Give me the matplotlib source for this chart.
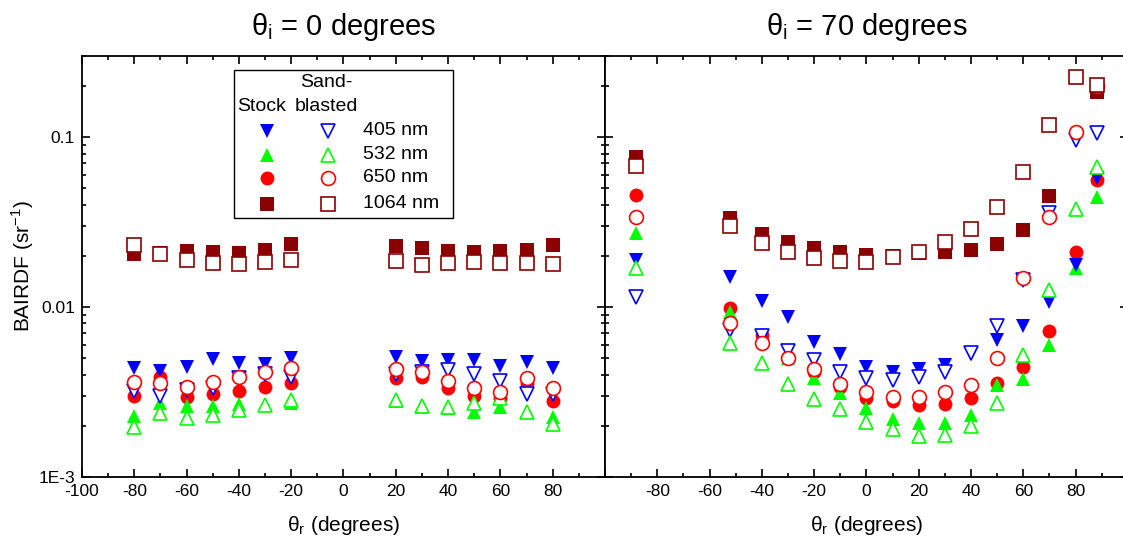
import matplotlib
matplotlib.use('Agg')
import matplotlib.pyplot as plt
from matplotlib.ticker import MultipleLocator, LogLocator, FixedLocator, FuncFormatter, NullFormatter
from matplotlib.patches import Rectangle
import numpy as np

plt.rcParams['font.family'] = ['Liberation Sans', 'DejaVu Sans']
plt.rcParams['mathtext.fontset'] = 'custom'
plt.rcParams['mathtext.rm'] = 'Liberation Sans'

# ---- data: theta_i = 0 degrees ----
angles_0 = [-80, -70, -60, -50, -40, -30, -20, 20, 30, 40, 50, 60, 70, 80]
stock_405_0 = [4.36e-3, 4.22e-3, 4.42e-3, 4.95e-3, 4.67e-3, 4.62e-3, 5.03e-3,
               5.08e-3, 4.83e-3, 4.85e-3, 4.88e-3, 4.48e-3, 4.73e-3, 4.36e-3]
sand_405_0 = [3.22e-3, 2.98e-3, 3.25e-3, 3.34e-3, 3.81e-3, 4.03e-3, 3.86e-3,
              4.02e-3, 4.15e-3, 4.24e-3, 4.05e-3, 3.67e-3, 3.09e-3, 3.09e-3]
stock_532_0 = [2.28e-3, 2.71e-3, 2.62e-3, 2.62e-3, 2.68e-3, 2.65e-3, 2.73e-3,
               2.80e-3, 2.57e-3, 2.55e-3, 2.41e-3, 2.59e-3, 2.40e-3, 2.24e-3]
sand_532_0 = [1.98e-3, 2.39e-3, 2.22e-3, 2.32e-3, 2.48e-3, 2.65e-3, 2.83e-3,
              2.85e-3, 2.63e-3, 2.58e-3, 2.72e-3, 2.90e-3, 2.42e-3, 2.06e-3]
stock_650_0 = [3.01e-3, 3.89e-3, 2.97e-3, 3.08e-3, 3.20e-3, 3.40e-3, 3.56e-3,
               3.81e-3, 3.89e-3, 3.35e-3, 3.01e-3, 2.90e-3, 3.59e-3, 2.80e-3]
sand_650_0 = [3.64e-3, 3.56e-3, 3.40e-3, 3.64e-3, 3.89e-3, 4.16e-3, 4.36e-3,
              4.30e-3, 4.16e-3, 3.67e-3, 3.35e-3, 3.18e-3, 3.81e-3, 3.35e-3]
stock_1064_0 = [0.0204, 0.0207, 0.0213, 0.0210, 0.0207, 0.0216, 0.0235,
                0.0229, 0.0221, 0.0213, 0.0211, 0.0213, 0.0218, 0.0232]
sand_1064_0 = [0.0232, 0.0205, 0.0189, 0.0181, 0.0178, 0.0184, 0.0189,
               0.0187, 0.0177, 0.0181, 0.0185, 0.0181, 0.0182, 0.0180]

# ---- data: theta_i = 70 degrees ----
angles_70 = [-88, -52, -40, -30, -20, -10, 0, 10, 20, 30, 40, 50, 60, 70, 80, 88]
stock_405_70 = [0.0189, 0.0150, 0.0109, 8.77e-3, 6.25e-3, 5.30e-3, 4.42e-3, 4.13e-3,
                4.30e-3, 4.56e-3, 5.30e-3, 6.40e-3, 7.73e-3, 0.01075, 0.0177, 0.0571]
sand_405_70 = [0.0115, 7.32e-3, 6.75e-3, 5.53e-3, 4.88e-3, 4.16e-3, 3.81e-3, 3.72e-3,
               3.89e-3, 4.16e-3, 5.34e-3, 7.73e-3, 0.0145, 0.0356, 0.0960, 0.105]
stock_532_70 = [0.0271, 9.4e-3, 6.6e-3, 4.99e-3, 3.81e-3, 3.10e-3, 2.54e-3, 2.19e-3,
                2.07e-3, 2.07e-3, 2.32e-3, 3.50e-3, 3.76e-3, 5.98e-3, 0.0169, 0.0445]
sand_532_70 = [0.0169, 6.11e-3, 4.67e-3, 3.52e-3, 2.87e-3, 2.50e-3, 2.12e-3, 1.91e-3,
               1.74e-3, 1.77e-3, 2.00e-3, 2.74e-3, 5.22e-3, 0.0126, 0.0376, 0.0669]
stock_650_70 = [0.0456, 9.83e-3, 6.84e-3, 5.10e-3, 4.16e-3, 3.40e-3, 2.90e-3, 2.81e-3,
                2.65e-3, 2.69e-3, 2.93e-3, 3.59e-3, 4.42e-3, 7.22e-3, 0.0210, 0.0558]
sand_650_70 = [0.0337, 8.02e-3, 6.11e-3, 4.99e-3, 4.32e-3, 3.51e-3, 3.15e-3, 2.97e-3,
               2.97e-3, 3.15e-3, 3.48e-3, 4.99e-3, 0.01475, 0.0337, 0.1075, 0.199]
stock_1064_70 = [0.0766, 0.0332, 0.0268, 0.0240, 0.0222, 0.0210, 0.0202, 0.0200,
                 0.0207, 0.0210, 0.0218, 0.0235, 0.0284, 0.0450, np.nan, 0.184]
sand_1064_70 = [0.0678, 0.0301, 0.0237, 0.0210, 0.0193, 0.0187, 0.0185, 0.0198,
                0.0210, 0.0242, 0.0288, 0.0386, 0.0620, 0.1177, 0.226, 0.202]

wavelengths = ['405 nm', '532 nm', '650 nm', '1064 nm']
colors = ['#0000ff', '#00ff00', '#ff0000', '#8b0000']
markers = ['v', '^', 'o', 's']

panels = [
    ('0', angles_0,
     [stock_405_0, stock_532_0, stock_650_0, stock_1064_0],
     [sand_405_0, sand_532_0, sand_650_0, sand_1064_0]),
    ('70', angles_70,
     [stock_405_70, stock_532_70, stock_650_70, stock_1064_70],
     [sand_405_70, sand_532_70, sand_650_70, sand_1064_70]),
]

MS = 10
MEW = 1.2

fig = plt.figure(figsize=(11.23, 5.44), dpi=100)
ax1 = fig.add_axes([0.0730, 0.1232, 0.4657, 0.7739])
ax2 = fig.add_axes([0.5387, 0.1232, 0.4657, 0.7739])

for ax, (inc, ang, stock, sand) in zip([ax1, ax2], panels):
    # filled (stock) first, then open (sand-blasted) on top
    for i in [3, 2, 1, 0]:
        ax.plot(ang, stock[i], linestyle='none', marker=markers[i], ms=MS,
                color=colors[i], mec=colors[i], mew=0)
    for i in [0, 1, 2, 3]:
        ax.plot(ang, sand[i], linestyle='none', marker=markers[i], ms=MS,
                mfc='white', mec=colors[i], mew=MEW)

    ax.set_yscale('log')
    ax.set_ylim(1e-3, 0.3)
    ax.set_xlim(-100, 100)
    ax.xaxis.set_major_locator(MultipleLocator(20))
    ax.xaxis.set_minor_locator(MultipleLocator(10))
    ax.yaxis.set_major_locator(FixedLocator([1e-3, 1e-2, 1e-1]))
    ax.yaxis.set_minor_locator(LogLocator(base=10, subs=np.arange(2, 10)))
    ax.yaxis.set_minor_formatter(NullFormatter())
    ax.tick_params(which='both', direction='in', top=True, right=True,
                   labelsize=12.5, width=1.2, pad=5)
    ax.tick_params(which='major', length=5.8)
    ax.tick_params(which='minor', length=3)
    for sp in ax.spines.values():
        sp.set_linewidth(1.3)
    ax.set_title('θ$_\\mathregular{i}$ = ' + inc + ' degrees', fontsize=21, pad=15)
    ax.set_xlabel('θ$_\\mathregular{r}$ (degrees)', fontsize=15, labelpad=11)

ax1.xaxis.set_major_formatter(FuncFormatter(lambda v, p: '' if v > 90 else '%d' % v))
ax2.xaxis.set_major_formatter(FuncFormatter(lambda v, p: '' if abs(v) > 90 else '%d' % v))
ax1.yaxis.set_major_formatter(FuncFormatter(
    lambda v, p: {1e-3: '1E-3', 1e-2: '0.01', 1e-1: '0.1'}.get(v, '')))
ax2.tick_params(labelleft=False)
ax1.set_ylabel('BAIRDF (sr$^{\\mathregular{-1}}$)', fontsize=15, labelpad=2)

# legend box drawn by hand (two marker columns + label column)
ax1.add_patch(Rectangle((0.2906, 0.6152), 0.4188, 0.3515, transform=ax1.transAxes,
                        fill=False, edgecolor='black', linewidth=1.0, zorder=5))
ax1.text(0.344, 0.879, 'Stock', transform=ax1.transAxes, ha='center', va='center', fontsize=14)
ax1.text(0.468, 0.936, 'Sand-', transform=ax1.transAxes, ha='center', va='center', fontsize=14)
ax1.text(0.468, 0.879, 'blasted', transform=ax1.transAxes, ha='center', va='center', fontsize=14)
row_y = [0.8219, 0.7648, 0.7102, 0.6485]
for i in range(4):
    ax1.plot([0.3537], [row_y[i]], transform=ax1.transAxes, linestyle='none',
             marker=markers[i], ms=MS, color=colors[i], mew=0)
    ax1.plot([0.4704], [row_y[i]], transform=ax1.transAxes, linestyle='none',
             marker=markers[i], ms=MS, mfc='white', mec=colors[i], mew=MEW)
    ax1.text(0.5373, row_y[i], wavelengths[i], transform=ax1.transAxes,
             ha='left', va='center', fontsize=14)

fig.savefig('out.png', dpi=100)
